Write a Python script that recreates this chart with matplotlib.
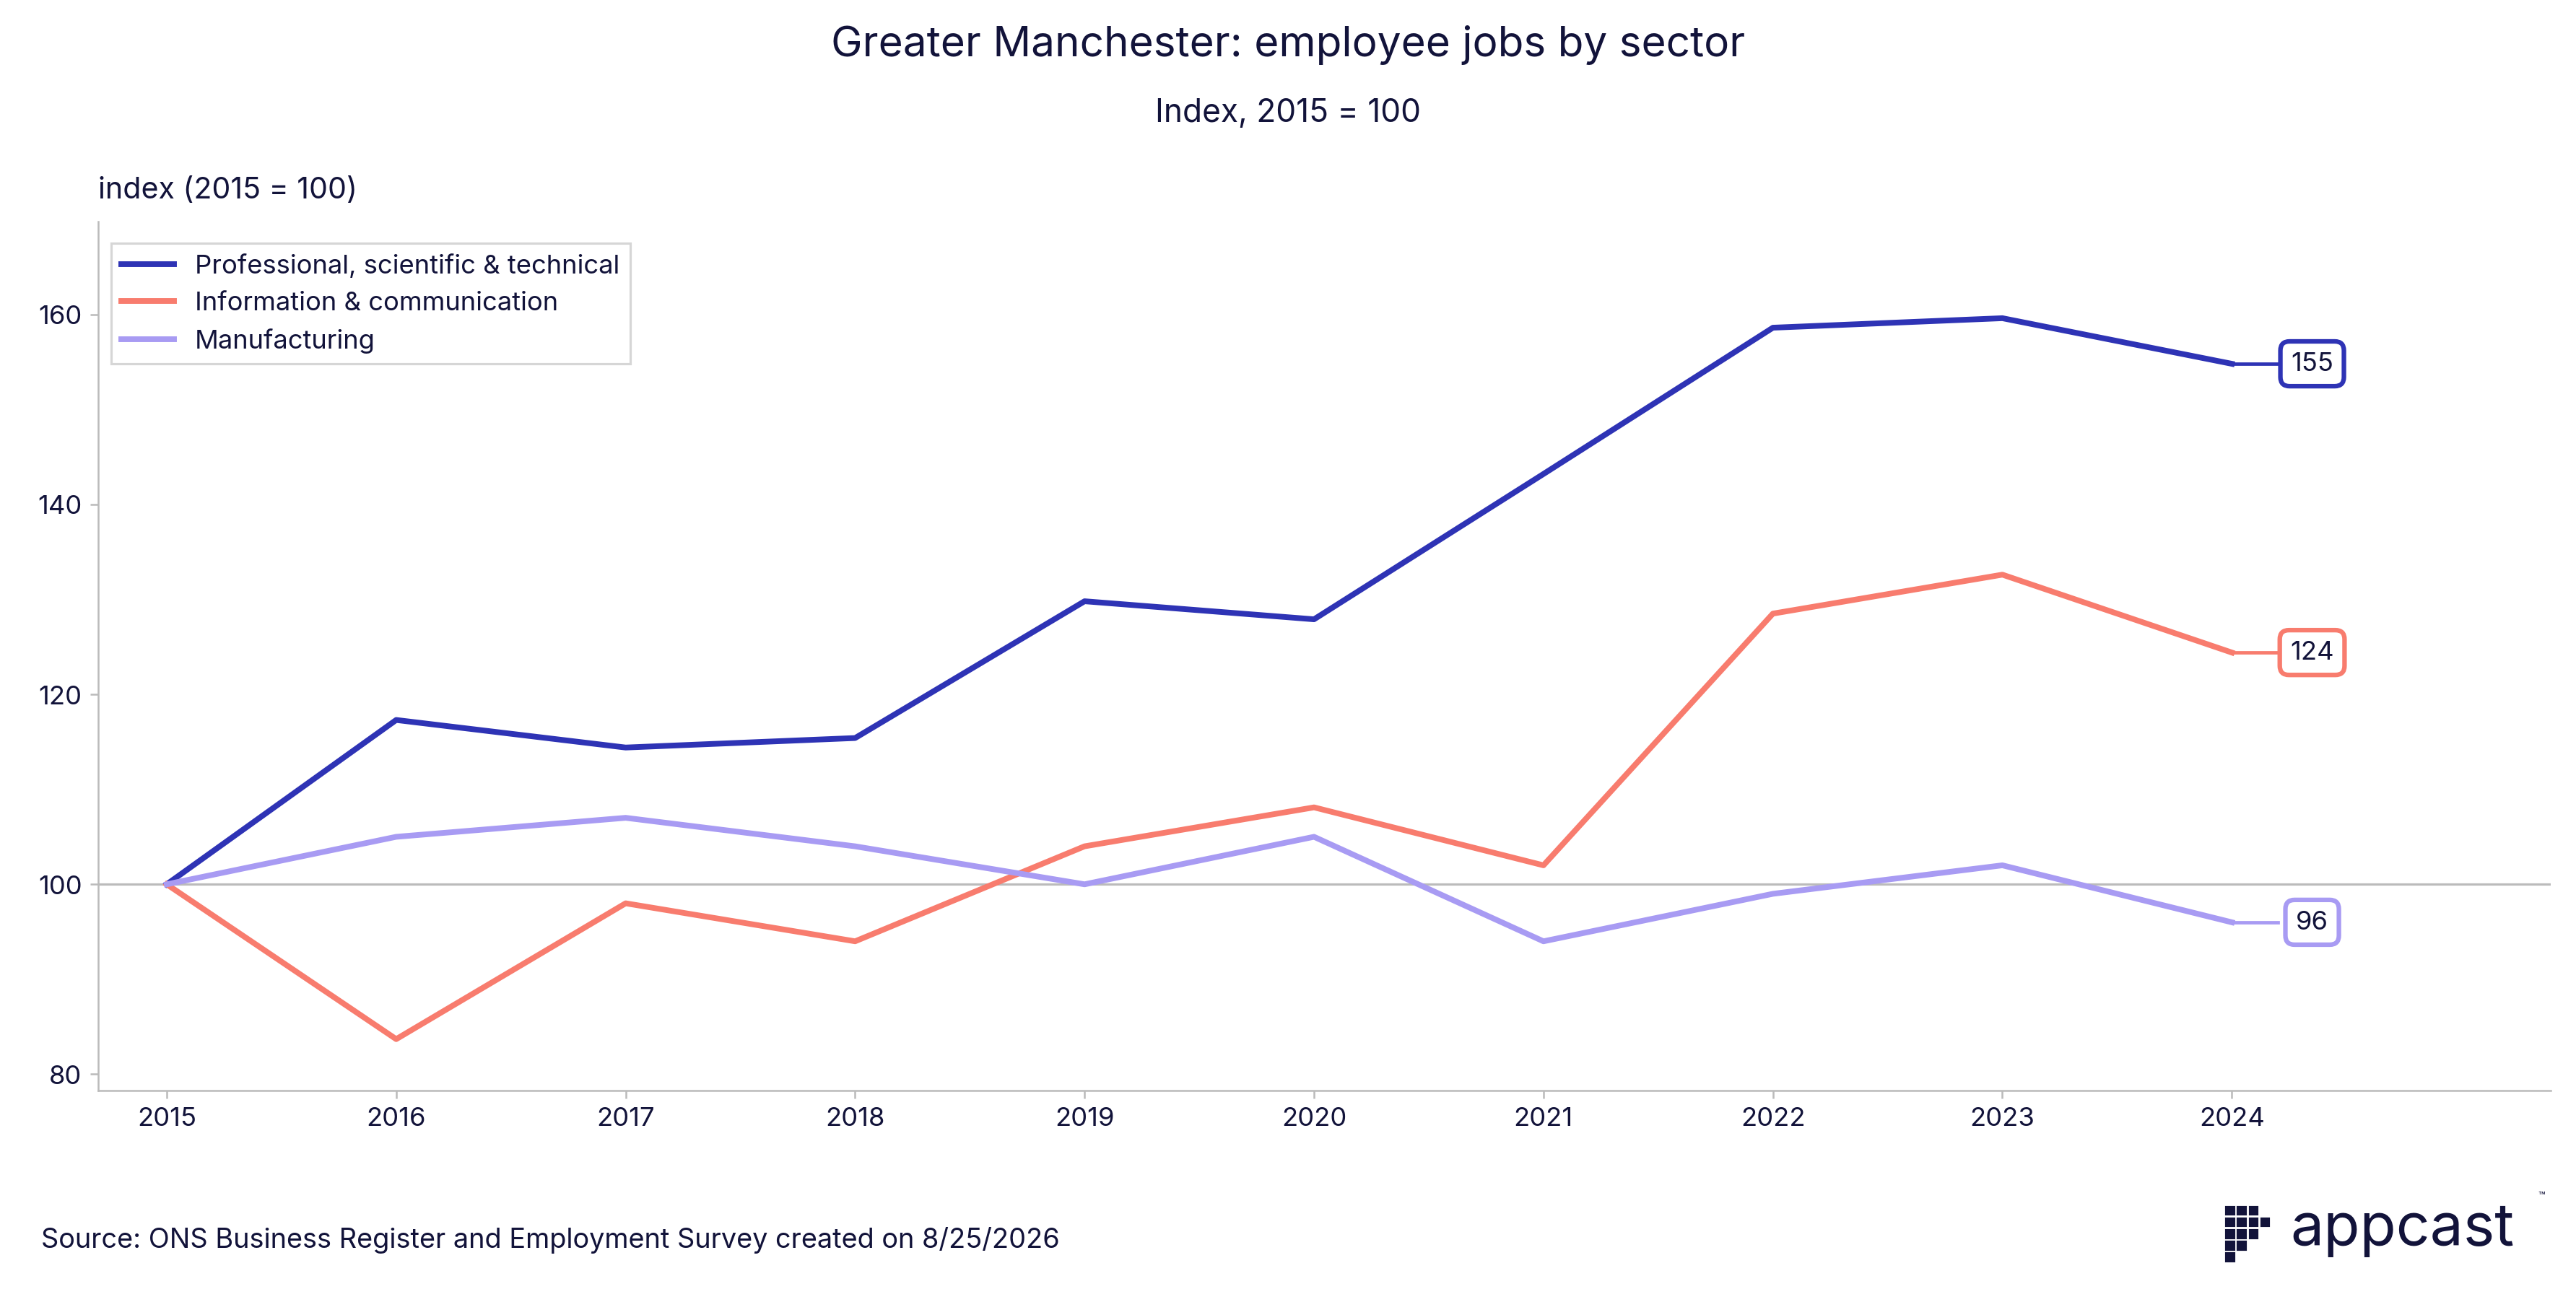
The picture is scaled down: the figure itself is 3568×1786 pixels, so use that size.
import matplotlib
matplotlib.use("Agg")
import matplotlib.pyplot as plt
from matplotlib.patches import Rectangle

plt.rcParams['font.family'] = ['Inter', 'DejaVu Sans']

years = [2015, 2016, 2017, 2018, 2019, 2020, 2021, 2022, 2023, 2024]
prof = [100, 117.3, 114.4, 115.4, 129.8, 127.9, 143.2, 158.6, 159.6, 154.8]
info = [100, 83.7, 98.0, 94.0, 104.0, 108.1, 102.0, 128.5, 132.6, 124.4]
manu = [100, 105.0, 107.0, 104.0, 100.0, 105.0, 94.0, 99.0, 102.0, 96.0]
names = ["Professional, scientific & technical", "Information & communication", "Manufacturing"]
colors = ["#2e33b5", "#f87c6e", "#a89bf3"]
navy = "#12133a"

fig = plt.figure(figsize=(15.68, 7.85), dpi=227.6)
ax = fig.add_axes([0.038, 0.154, 0.952, 0.674])
ax.axhline(100, color="#bbbbbb", lw=1, zorder=1)
for s, n, c in zip([prof, info, manu], names, colors):
    ax.plot(years, s, color=c, lw=2.5, label=n, zorder=3)
    v = s[-1]
    ax.plot([2024, 2024.2], [v, v], color=c, lw=1.5)
    ax.text(2024.35, v, f"{v:.0f}", ha="center", va="center", fontsize=11.5, color=navy,
            bbox=dict(boxstyle="round,pad=0.4,rounding_size=0.35", fc="white", ec=c, lw=2))
ax.set_xlim(2014.7, 2025.39)
ax.set_ylim(78.3, 169.8)
ax.set_xticks(years)
ax.set_yticks([80, 100, 120, 140, 160])
for sp in ["top", "right"]:
    ax.spines[sp].set_visible(False)
for sp in ["left", "bottom"]:
    ax.spines[sp].set_color("#bbbbbb")
ax.tick_params(colors=navy, labelsize=11.5, color="#bbbbbb")
leg = ax.legend(loc="upper left", fontsize=11.5, frameon=True, fancybox=False,
                edgecolor="#cccccc", labelcolor=navy, bbox_to_anchor=(0.0, 0.99))
ax.text(0.0, 1.02, "index (2015 = 100)", transform=ax.transAxes, fontsize=13, color=navy, ha="left", va="bottom")

fig.text(0.5, 0.965, "Greater Manchester: employee jobs by sector", ha="center", va="center", fontsize=18.5, color=navy)
fig.text(0.5, 0.912, "Index, 2015 = 100", ha="center", va="center", fontsize=14, color=navy)
fig.text(0.016, 0.038, "Source: ONS Business Register and Employment Survey created on 8/25/2026", ha="left",
         va="center", fontsize=12, color=navy)

# logo
fig.text(0.889, 0.046, "appcast", ha="left", va="center", fontsize=26, color=navy)
cells = [(0, 0), (0, 1), (0, 2), (0, 3), (0, 4), (1, 1), (1, 2), (1, 3), (1, 4), (2, 2), (2, 3), (2, 4), (3, 3)]
sx, sy = 0.003, 0.006
for cx, cy in cells:
    fig.add_artist(Rectangle((0.864 + cx * sx * 1.5, 0.022 + cy * sy * 1.5), sx, sy,
                             transform=fig.transFigure, color=navy))
fig.text(0.985, 0.07, "™", fontsize=5, color=navy)

fig.savefig("out.png", dpi=227.6)
